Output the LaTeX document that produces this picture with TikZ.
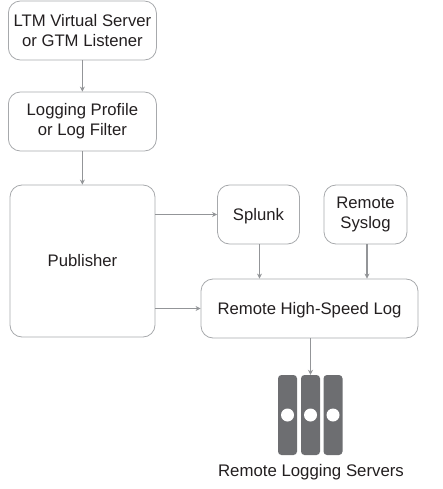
\documentclass[tikz,border=0pt]{standalone}
\usepackage{fontspec}
\setmainfont{Liberation Sans}
\usetikzlibrary{arrows.meta}
\definecolor{boxline}{HTML}{A7A9AC}
\definecolor{arrowline}{HTML}{939598}
\definecolor{rackgray}{HTML}{6D6E71}
\definecolor{labeltext}{HTML}{231F20}
\tikzset{
	logbox/.style={draw=boxline, line width=0.8pt, rounded corners=12pt, inner sep=0pt, align=center, text=labeltext, font=\fontsize{16.7}{20}\selectfont},
	flow/.style={draw=arrowline, line width=1.3pt, -{Stealth[length=5pt,width=5pt]}},
	rack/.style={fill=rackgray, rounded corners=3.5pt, inner sep=0pt, minimum width=19pt, minimum height=80pt},
	hole/.style={circle, fill=white, inner sep=0pt, minimum size=13pt}
}
\begin{document}
\begin{tikzpicture}[x=1pt,y=-1pt]
	\useasboundingbox (0,0) rectangle (442,489);

	\node[logbox, minimum width=148pt, minimum height=59pt] (V) at (82.4,30.5) {LTM Virtual Server\\or GTM Listener};
	\node[logbox, minimum width=148pt, minimum height=59pt] (F) at (82.4,121.5) {Logging Profile\\or Log Filter};
	\node[logbox, minimum width=145pt, minimum height=152pt] (P) at (82.5,261) {Publisher};
	\node[logbox, minimum width=82pt, minimum height=59pt, text depth=0pt] (S) at (258.5,214.5) {Splunk};
	\node[logbox, minimum width=83pt, minimum height=59pt] (R) at (365.5,214.5) {Remote\\Syslog};
	\node[logbox, minimum width=217pt, minimum height=59pt, text depth=0pt] (H) at (309.5,308.5) {Remote High-Speed Log};

	\node[rack] (A) at (287.5,415) {};
	\node[rack] (B) at (310.5,415) {};
	\node[rack] (C) at (333,415) {};
	\node[hole] (a) at (A) {};
	\node[hole] (b) at (B) {};
	\node[hole] (c) at (C) {};
	\node[text=labeltext, font=\fontsize{16.8}{20}\selectfont] (L) at (311,472.5) {Remote Logging Servers};

	\coordinate (s) at ([xshift=1pt]S.south);
	\coordinate (r) at ([xshift=1.5pt]R.south);

	\draw[flow] (V) -- (F);
	\draw[flow] (F) -- (F |- P.north);
	\draw[flow] (P.east |- S) -- (S);
	\draw[flow] (P.east |- H) -- (H);
	\draw[flow] (s) -- (s |- H.north);
	\draw[flow] (r) -- (r |- H.north);
	\draw[flow] (H.south -| B) -- (B);
\end{tikzpicture}
\end{document}
